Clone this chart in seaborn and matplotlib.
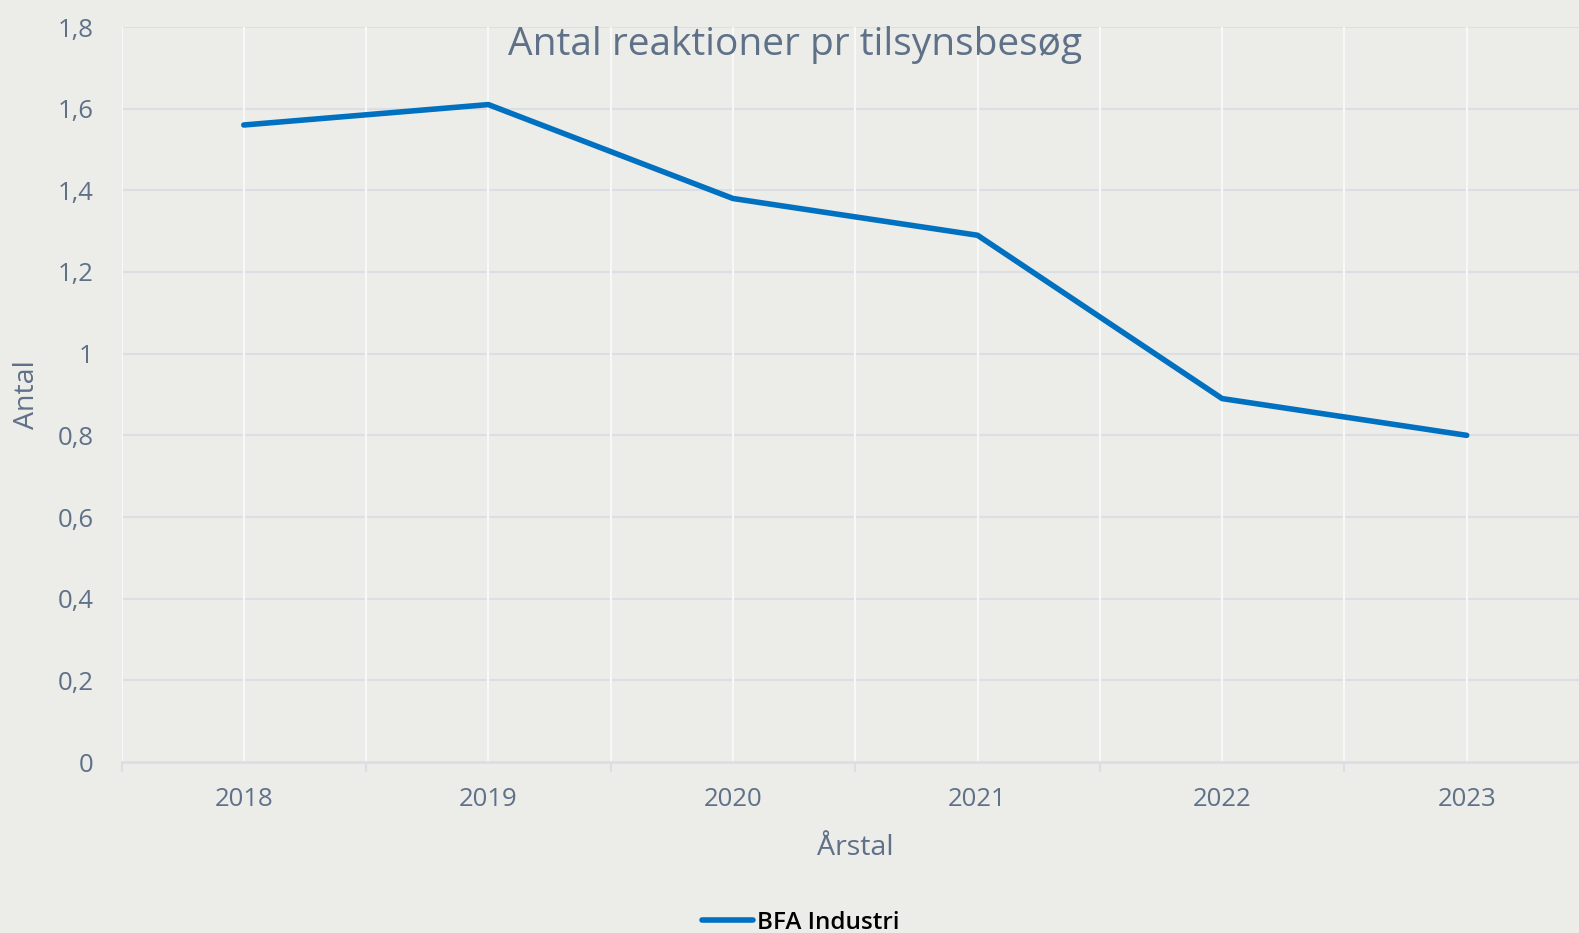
import matplotlib
matplotlib.use("Agg")
import matplotlib.pyplot as plt
import seaborn as sns
import pandas as pd
from matplotlib.ticker import FixedLocator, FuncFormatter

years = ["2018", "2019", "2020", "2021", "2022", "2023"]
values = [1.56, 1.61, 1.38, 1.29, 0.89, 0.80]
series_name = "BFA Industri"
title = "Antal reaktioner pr tilsynsbesøg"
yticks = [0, 0.2, 0.4, 0.6, 0.8, 1.0, 1.2, 1.4, 1.6, 1.8]

df = pd.DataFrame({"Årstal": years, "Antal": values, "serie": series_name})

sns.set_theme(style="white")
plt.rcParams["font.family"] = ["Open Sans", "DejaVu Sans"]

bg = "#ececE8"
txt = "#5f7189"
grid_h = "#dcdee6"

W, H = 1579, 933
left_px, right_px, top_px, bot_px = 121.5, 1589, 27, 762
fig = plt.figure(figsize=(W/100, H/100), dpi=100, facecolor=bg)
ax = fig.add_axes([left_px/W, 1-bot_px/H, (right_px-left_px)/W, (bot_px-top_px)/H])
ax.set_facecolor(bg)

sns.lineplot(data=df, x="Årstal", y="Antal", hue="serie", palette=["#0070c0"],
             linewidth=4.0, ax=ax, sort=False, legend=True)
for ln in ax.lines:
    ln.set_solid_capstyle("round")

ax.set_xlim(-0.5, len(years) - 0.5)
ax.set_ylim(0, 1.8)

# ticks
ax.set_xticks(range(len(years)))
ax.set_xticklabels(years)
ax.xaxis.set_minor_locator(FixedLocator([i - 0.5 for i in range(len(years) + 1)]))
ax.tick_params(axis="x", which="major", length=0, pad=18, labelsize=18.5, labelcolor=txt)
ax.tick_params(axis="x", which="minor", length=7, width=1.5, color=grid_h, bottom=True)
ax.set_yticks(yticks)
ax.yaxis.set_major_formatter(FuncFormatter(lambda v, p: (f"{v:.1f}".rstrip("0").rstrip(".")).replace(".", ",")))
ax.tick_params(axis="y", length=0, pad=20, labelsize=18.5, labelcolor=txt)

# grids
for y in yticks[1:]:
    ax.axhline(y, color=grid_h, lw=1.5, zorder=0)
for x in [i * 0.5 - 0.5 for i in range(2 * len(years) + 1)]:
    ax.axvline(x, color="#f8f8f8", lw=1.5, zorder=0)

for s in ["top", "right", "left"]:
    ax.spines[s].set_visible(False)
ax.spines["bottom"].set_color(grid_h)
ax.spines["bottom"].set_linewidth(2)

ax.set_xlabel("Årstal", fontsize=20.5, color=txt)
ax.set_ylabel("Antal", fontsize=20.5, color=txt)
ax.xaxis.set_label_coords((855-left_px)/(right_px-left_px), -(848-bot_px)/(bot_px-top_px))
ax.xaxis.label.set_va("center")
ax.yaxis.set_label_coords(-(left_px-27)/(right_px-left_px), 0.5)
ax.yaxis.label.set_va("center")

ax.text((795-left_px)/(right_px-left_px), (bot_px-44.5)/(bot_px-top_px), title,
        transform=ax.transAxes, ha="center", va="center", fontsize=28, color=txt)

handles, labels = ax.get_legend_handles_labels()
ax.get_legend().remove()
leg = fig.legend(handles, labels, loc="center", bbox_to_anchor=(0.507, 0.011),
                 frameon=False, handlelength=2.1, handletextpad=0.15,
                 prop={"weight": "semibold", "size": 17.5})
for t in leg.get_texts():
    t.set_color("black")

fig.savefig("out.png", dpi=100, facecolor=bg)
